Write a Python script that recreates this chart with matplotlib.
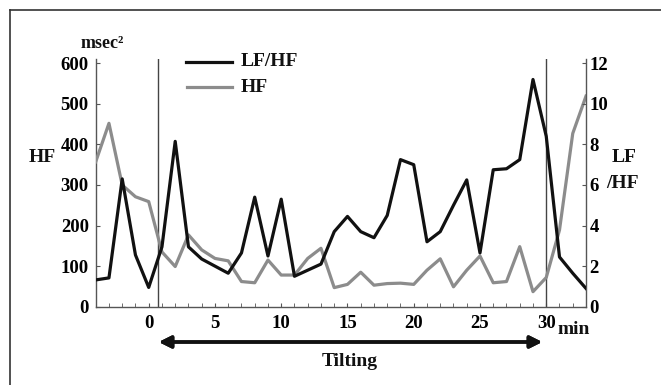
'''
HRV during head-up tilt: HF power and LF/HF ratio
'''

# importing libraries and defining constants
import matplotlib.pyplot as plt
from matplotlib.lines import Line2D

W, H = 661, 385
FONT = "Liberation Serif"
TICK_SIZE = 13.5
LABEL_SIZE = 14

minutes = list(range(-4, 34))

hf = [357, 452, 300, 271, 259, 135, 99, 177, 140, 119,
      113, 62, 59, 115, 78, 78, 119, 144, 47, 55,
      85, 53, 57, 58, 55, 90, 118, 49, 90, 125,
      59, 62, 148, 37, 72, 189, 427, 519]

lf_hf = [1.32, 1.42, 6.3, 2.55, 0.95, 2.95, 8.15, 2.95, 2.35, 2.0,
         1.65, 2.65, 5.4, 2.5, 5.3, 1.5, 1.8, 2.1, 3.7, 4.45,
         3.7, 3.4, 4.5, 7.25, 7.0, 3.2, 3.7, 5.0, 6.25, 2.65,
         6.75, 6.8, 7.25, 11.2, 8.4, 2.45, 1.65, 0.9]

x_labels = [0, 5, 10, 15, 20, 25, 30]
hf_ticks = [0, 100, 200, 300, 400, 500, 600]
ratio_ticks = [0, 2, 4, 6, 8, 10, 12]
tilt_start, tilt_end = 0.7, 30


def fx(px):
    """ pixel x -> figure fraction """
    return px / W


def fy(py):
    """ pixel y (from top) -> figure fraction """
    return 1 - py / H


def style_axis(ax, side):
    """
    :param ax: axis to style
    :param side: 'left' or 'right'
    Does: inward ticks, bold serif labels, grey spines
    """
    for s in ax.spines.values():
        s.set_color("#555555")
        s.set_linewidth(1.0)
    ax.spines["top"].set_visible(False)
    pad = 5 if side == "left" else 2.5
    ax.tick_params(axis="y", direction="in", length=3, color="#555555",
                   pad=pad, labelsize=TICK_SIZE)
    for lab in ax.get_yticklabels():
        lab.set_fontfamily(FONT)
        lab.set_fontweight("bold")


def main():
    fig = plt.figure(figsize=(W / 100, H / 100), dpi=100)
    ax = fig.add_axes([fx(95.7), fy(306.7), fx(586) - fx(95.7), fy(59.2) - fy(306.7)])

    # HF on the left axis
    ax.plot(minutes, hf, color="#8c8c8c", lw=2.3, zorder=3)
    ax.set_xlim(-4, 33)
    ax.set_ylim(0, 610)
    ax.set_yticks(hf_ticks)
    ax.set_xticks(x_labels)
    ax.set_xticks(minutes, minor=True)
    ax.tick_params(axis="x", which="both", direction="in", length=3,
                   color="#555555", pad=6, labelsize=TICK_SIZE)
    for lab in ax.get_xticklabels():
        lab.set_fontfamily(FONT)
        lab.set_fontweight("bold")
    style_axis(ax, "left")
    ax.spines["right"].set_visible(False)

    # tilt start / end markers
    ax.axvline(tilt_start, color="#444444", lw=1.0, zorder=2)
    ax.axvline(tilt_end, color="#444444", lw=1.0, zorder=2)

    # LF/HF on the right axis
    ax2 = ax.twinx()
    ax2.plot(minutes, lf_hf, color="#111111", lw=2.3, zorder=4)
    ax2.set_ylim(0, 12.2)
    ax2.set_yticks(ratio_ticks)
    style_axis(ax2, "right")
    ax2.spines["left"].set_visible(False)
    ax2.spines["bottom"].set_visible(False)

    bold = dict(family=FONT, fontweight="bold", color="#111111")

    # axis titles
    fig.text(fx(81), fy(43), "msec²", fontsize=LABEL_SIZE - 1, va="center", **bold)
    fig.text(fx(29), fy(157), "HF", fontsize=LABEL_SIZE, va="center", **bold)
    fig.text(fx(612), fy(158), "LF", fontsize=LABEL_SIZE, va="center", **bold)
    fig.text(fx(606), fy(183), "/HF", fontsize=LABEL_SIZE, va="center", **bold)
    fig.text(fx(558), fy(329), "min", fontsize=LABEL_SIZE, va="center", **bold)

    # legend drawn by hand
    fig.add_artist(Line2D([fx(186), fx(232)], [fy(62), fy(62)], color="#111111", lw=2.3))
    fig.add_artist(Line2D([fx(187), fx(232)], [fy(87), fy(87)], color="#8c8c8c", lw=2.3))
    fig.text(fx(241), fy(62), "LF/HF", fontsize=LABEL_SIZE, va="center", **bold)
    fig.text(fx(241), fy(87), "HF", fontsize=LABEL_SIZE, va="center", **bold)

    # tilting arrow
    fig.add_artist(plt.annotate("", xy=(fx(545), fy(342)), xytext=(fx(156), fy(342)),
                                xycoords="figure fraction", textcoords="figure fraction",
                                arrowprops=dict(arrowstyle="<|-|>", color="#111111",
                                                lw=2.5, mutation_scale=18)))
    fig.text(fx(350), fy(362), "Tilting", fontsize=LABEL_SIZE, ha="center", va="center", **bold)

    # outer frame (top and left only)
    fig.add_artist(Line2D([fx(10), 1], [fy(10), fy(10)], color="#333333", lw=1.2))
    fig.add_artist(Line2D([fx(10), fx(10)], [fy(10), 0], color="#333333", lw=1.2))

    fig.savefig("out.png", dpi=100)


if __name__ == "__main__":
    main()
